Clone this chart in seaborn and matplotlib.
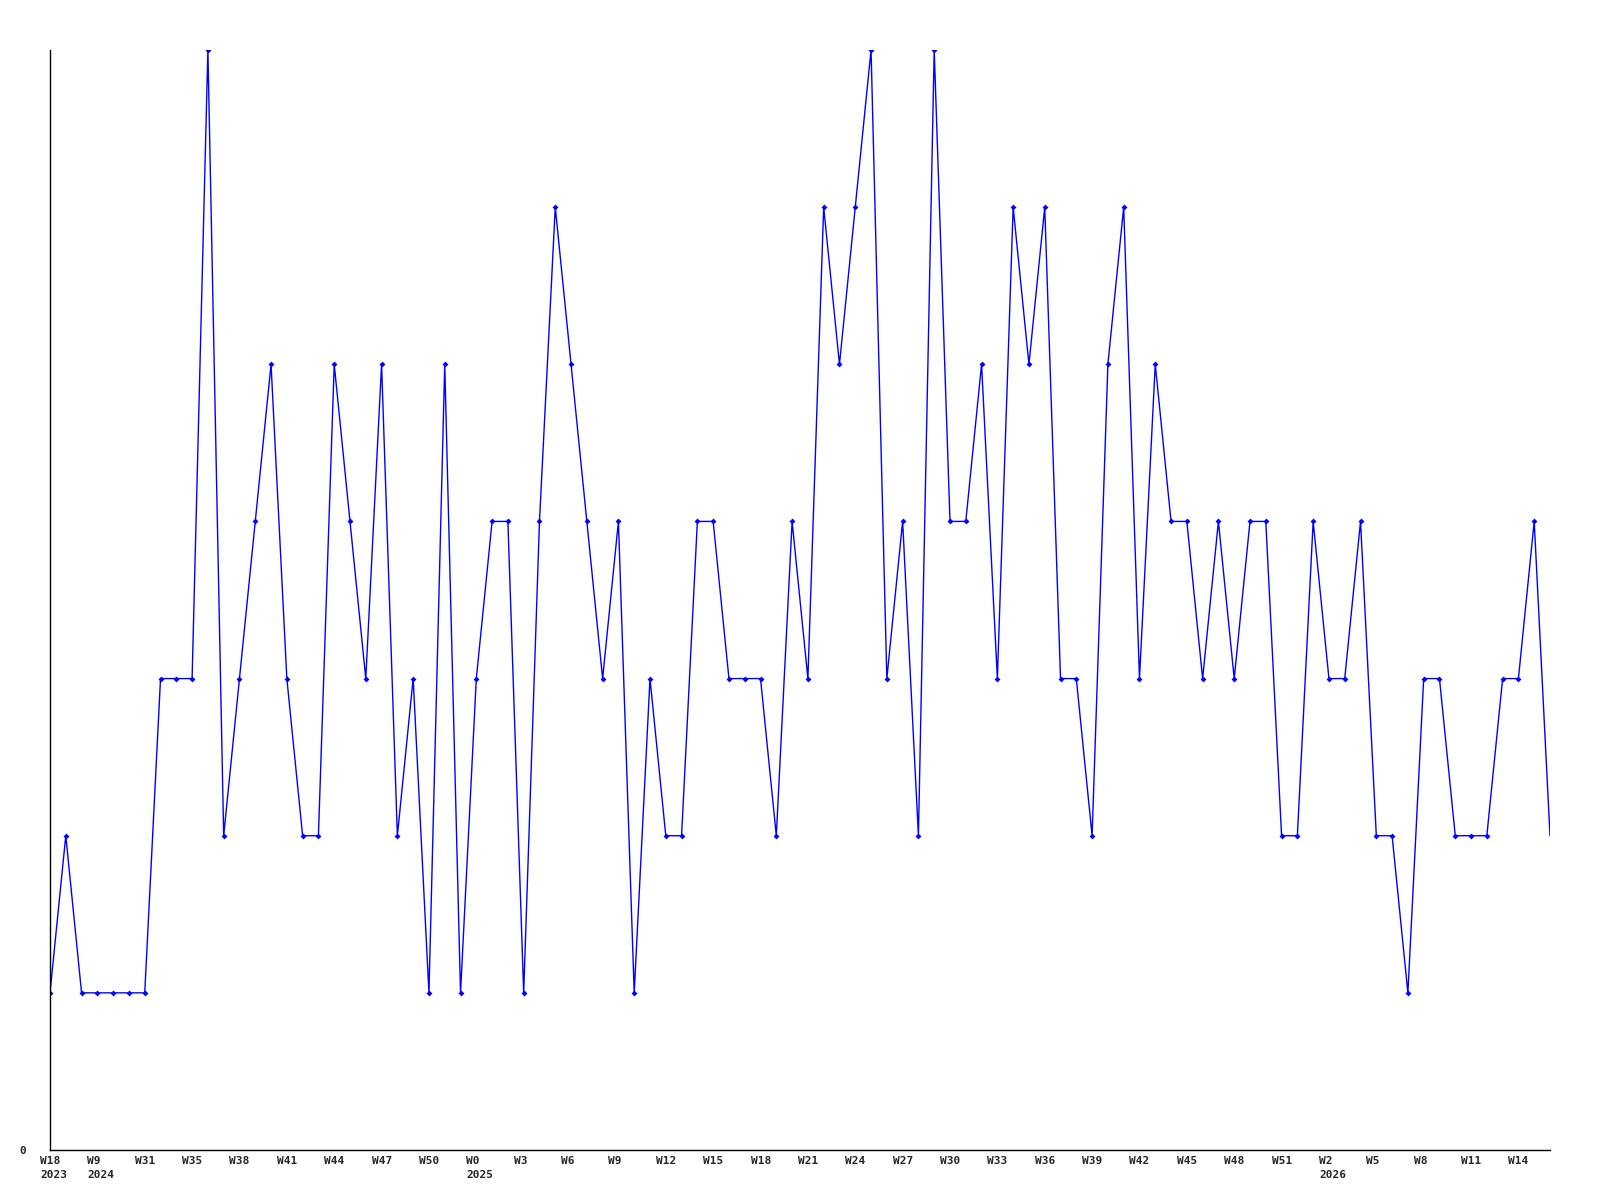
import numpy as np
import pandas as pd
import matplotlib
matplotlib.use("Agg")
import matplotlib.pyplot as plt
import matplotlib.transforms as mtransforms
import seaborn as sns

# weekly counts
counts = [1, 2, 1, 1, 1, 1, 1, 3, 3, 3, 7, 2, 3, 4, 5, 3, 2, 2, 5, 4,
          3, 5, 2, 3, 1, 5, 1, 3, 4, 4, 1, 4, 6, 5, 4, 3, 4, 1, 3, 2,
          2, 4, 4, 3, 3, 3, 2, 4, 3, 6, 5, 6, 7, 3, 4, 2, 7, 4, 4, 5,
          3, 6, 5, 6, 3, 3, 2, 5, 6, 3, 5, 4, 4, 3, 4, 3, 4, 4, 2, 2,
          4, 3, 3, 4, 2, 2, 1, 3, 3, 2, 2, 2, 3, 3, 4, 2]

tick_labels = ["W18\n2023", "W9\n2024", "W31", "W35", "W38", "W41", "W44", "W47",
               "W50", "W0\n2025", "W3", "W6", "W9", "W12", "W15", "W18", "W21",
               "W24", "W27", "W30", "W33", "W36", "W39", "W42", "W45", "W48",
               "W51", "W2\n2026", "W5", "W8", "W11", "W14"]

df = pd.DataFrame({"week": np.arange(len(counts)), "count": counts})

sns.set_style("white")
plt.rcParams['font.family'] = ['DejaVu Sans Mono']

fig = plt.figure(figsize=(16, 12), dpi=100)
ax = fig.add_axes([50/1600, 50/1200, 1500/1600, 1100/1200])

# markers on all but the last point
sns.lineplot(data=df, x="week", y="count", ax=ax, color="#0000ff", linewidth=1.0,
             marker="D", markersize=3, markeredgewidth=0, markevery=list(range(len(counts) - 1)))

ax.set_xlim(0, len(counts) - 1)
ax.set_ylim(0, 7)
tick_pos = np.arange(0, len(counts), 3)[:len(tick_labels)]
ax.set_xticks(tick_pos)
ax.set_xticklabels([])
# labels start a little left of their tick
shift = mtransforms.ScaledTranslation(-10/100, -6/100, fig.dpi_scale_trans)
for pos, lab in zip(tick_pos, tick_labels):
    ax.text(pos, 0, lab, transform=ax.get_xaxis_transform() + shift,
            ha="left", va="top", fontsize=8, fontweight="bold", linespacing=1.5)
ax.set_yticks([0])
ax.set_yticklabels(["0"], fontsize=8, fontweight="bold")
ax.tick_params(length=0, pad=6)
ax.tick_params(axis="y", pad=17)
ax.set_xlabel("")
ax.set_ylabel("")
for s in ["top", "right"]:
    ax.spines[s].set_visible(False)
for s in ["left", "bottom"]:
    ax.spines[s].set_color("black")
    ax.spines[s].set_linewidth(1)

fig.savefig("out.png", dpi=100, facecolor="white")
